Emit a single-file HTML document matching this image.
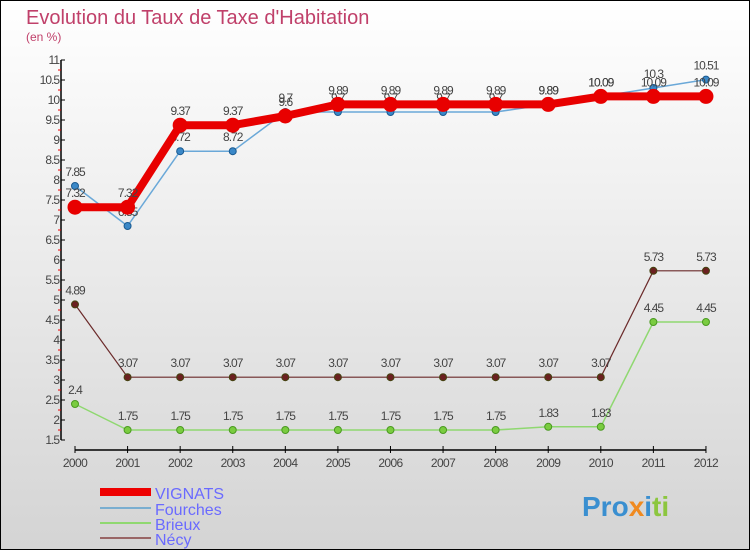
<!DOCTYPE html>
<html><head><meta charset="utf-8"><style>
body{margin:0}
svg text{font-family:"Liberation Sans",sans-serif}
</style></head><body>
<svg width="750" height="550" viewBox="0 0 750 550">
<defs><linearGradient id="bg" x1="0" y1="0" x2="0" y2="1"><stop offset="0" stop-color="#ffffff"/><stop offset="1" stop-color="#d4d4d4"/></linearGradient></defs>
<rect x="0.5" y="0.5" width="749" height="549" fill="url(#bg)" stroke="#000"/>
<text x="26" y="24" font-size="20" fill="#c0406a">Evolution du Taux de Taxe d'Habitation</text>
<text x="26" y="41" font-size="12" fill="#c0406a">(en %)</text>
<g id="axes"></g><g id="series"></g>
<g>
<rect x="100" y="488" width="51" height="8" fill="#e00"/>
<text x="155" y="499" font-size="16" fill="#6a6aff">VIGNATS</text>
<line x1="100" y1="508" x2="151" y2="508" stroke="#7aaed0" stroke-width="2"/>
<text x="155" y="515" font-size="16" fill="#6a6aff">Fourches</text>
<line x1="100" y1="523" x2="151" y2="523" stroke="#8fd870" stroke-width="2"/>
<text x="155" y="530" font-size="16" fill="#6a6aff">Brieux</text>
<line x1="100" y1="538" x2="151" y2="538" stroke="#996666" stroke-width="2"/>
<text x="155" y="545" font-size="16" fill="#6a6aff">Nécy</text>
</g>
<text x="582" y="516" font-size="28" font-weight="bold"><tspan fill="#3a8fd0">Pro</tspan><tspan fill="#f08a20">x</tspan><tspan fill="#3a8fd0">i</tspan><tspan fill="#8cc63f">ti</tspan></text>
</svg>
<script>
const years=[2000,2001,2002,2003,2004,2005,2006,2007,2008,2009,2010,2011,2012];
const vignats=[7.32,7.32,9.37,9.37,9.6,9.89,9.89,9.89,9.89,9.89,10.09,10.09,10.09];
const fourches=[7.85,6.85,8.72,8.72,9.7,9.7,9.7,9.7,9.7,9.89,10.09,10.3,10.51];
const brieux=[2.4,1.75,1.75,1.75,1.75,1.75,1.75,1.75,1.75,1.83,1.83,4.45,4.45];
const necy=[4.89,3.07,3.07,3.07,3.07,3.07,3.07,3.07,3.07,3.07,3.07,5.73,5.73];
const yTicks=[1.5,2,2.5,3,3.5,4,4.5,5,5.5,6,6.5,7,7.5,8,8.5,9,9.5,10,10.5,11];
const NS="http://www.w3.org/2000/svg";
const X=i=>75+i*52.58;
const Y=v=>60+(11-v)*40;
function mk(t,a,p){const e=document.createElementNS(NS,t);for(const k in a)e.setAttribute(k,a[k]);p.appendChild(e);return e;}
const ax=document.getElementById('axes'),sr=document.getElementById('series');
const yl=mk('line',{x1:61,y1:Y(11),x2:61,y2:Y(1.5),stroke:'#000','stroke-width':1.5},ax);


const xl=mk('line',{x1:75,y1:450,x2:X(12),y2:450,stroke:'#000','stroke-width':1.5},ax);


yTicks.forEach(v=>{
  mk('line',{x1:61,y1:Y(v),x2:65,y2:Y(v),stroke:'#000'},ax);
  if(v<11)mk('line',{x1:58,y1:Y(v+0.25),x2:61,y2:Y(v+0.25),stroke:'#e00'},ax);
  const t=mk('text',{x:59,y:Y(v)+4,'font-size':12,'text-anchor':'end',fill:'#444','letter-spacing':'-1'},ax);
  t.textContent=String(v);
  
  
});
years.forEach((yr,i)=>{
  mk('line',{x1:X(i),y1:446,x2:X(i),y2:453,stroke:'#000'},ax);
  const t=mk('text',{x:X(i),y:467,'font-size':12,'text-anchor':'middle',fill:'#444','letter-spacing':'-0.6'},ax);
  t.textContent=yr;
  
  
});
function series(data,name,color,w,r,fill,stroke){
  const g=mk('g',{},sr);
  
  
  const pl=mk('polyline',{points:data.map((v,i)=>X(i)+','+Y(v)).join(' '),fill:'none',stroke:color,'stroke-width':w,'stroke-linejoin':'round'},g);
  
  
  data.forEach((v,i)=>{
    const c=mk('circle',{cx:X(i),cy:Y(v),r:r,fill:fill,stroke:stroke,'stroke-width':1},g);
    
    
    const t=mk('text',{x:X(i),y:Y(v)-10,'font-size':12,'text-anchor':'middle',fill:'#444','letter-spacing':'-1'},g);
    t.textContent=String(v);
    
    
  });
}
series(necy,'necy','#6b2a2a',1.2,3.5,'#6b2020','#441');
series(brieux,'brieux','#8fd870',1.5,3.5,'#7acc40','#4a9a20');
series(fourches,'fourches','#6aa8d8',1.5,3.5,'#3a88c8','#1a5a90');
series(vignats,'vignats','#e80000',8,7,'#e80000','#e80000');
</script>
</body></html>
